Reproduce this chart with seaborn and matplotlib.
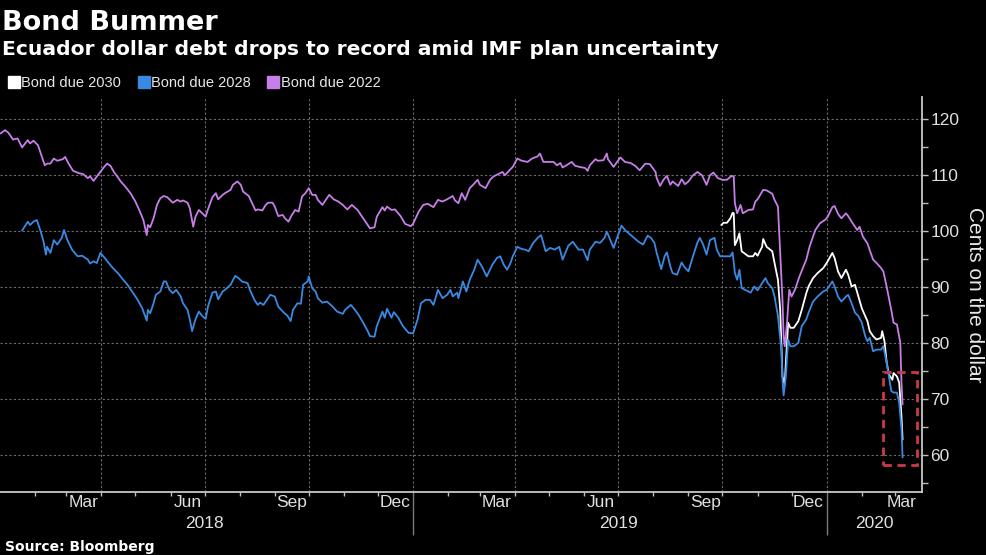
import pandas as pd
import matplotlib
matplotlib.use('Agg')
import matplotlib.pyplot as plt
import matplotlib.dates as mdates
from matplotlib.lines import Line2D
from matplotlib.patches import Rectangle
import seaborn as sns

# ---------------- data (days since 2018-01-01) ----------------
start = pd.Timestamp('2018-01-01')

days_2022 = [1, 5, 8, 12, 16, 20, 25, 27, 30, 34, 36, 40, 42, 45, 48, 51, 56, 58, 61, 65,
             70, 74, 78, 80, 83, 86, 89, 92, 95, 98, 101, 105, 107, 111, 116, 120, 124, 127, 130, 131,
             133, 136, 139, 142, 145, 148, 151, 153, 157, 160, 162, 166, 168, 171, 173, 176, 179, 182, 184, 188,
             191, 193, 197, 199, 204, 206, 210, 213, 215, 220, 223, 226, 228, 232, 235, 237, 241, 243, 246, 250,
             252, 255, 258, 261, 264, 267, 270, 273, 276, 279, 281, 285, 288, 291, 295, 299, 303, 307, 311, 316,
             320, 325, 327, 331, 333, 338, 340, 342, 346, 349, 354, 358, 363, 365, 370, 374, 378, 383, 387, 391,
             395, 400, 402, 405, 408, 411, 415, 418, 422, 424, 429, 433, 436, 440, 444, 446, 450, 453, 457, 461,
             466, 470, 475, 477, 480, 484, 489, 492, 495, 497, 502, 505, 508, 512, 517, 519, 521, 526, 528, 533,
             536, 537, 542, 545, 548, 552, 557, 561, 565, 570, 574, 579, 580, 583, 586, 589, 592, 594, 599, 602,
             605, 608, 612, 616, 620, 624, 627, 630, 634, 638, 642, 646, 648, 649, 651, 654, 656, 661, 665, 667,
             669, 674, 677, 682, 684, 687, 689, 691, 692, 693, 695, 697, 699, 702, 706, 712, 715, 720, 724, 729,
             731, 735, 737, 740, 743, 747, 749, 753, 757, 759, 762, 766, 768, 771, 774, 778, 780, 783, 787, 789,
             792, 795, 796, 797]
bond_2022 = [117.5, 118.1, 117.6, 116.4, 116.6, 115.0, 116.3, 115.7, 116.2, 115.4, 114.2, 111.8, 112.1, 112.1, 113.0, 112.6, 112.9, 113.3, 112.1, 110.8,
             110.4, 110.2, 109.5, 109.8, 109.0, 109.8, 110.6, 111.4, 112.1, 111.7, 110.6, 109.5, 108.9, 108.0, 106.7, 105.3, 103.5, 102.0, 99.3, 101.1,
             100.7, 102.3, 104.7, 105.9, 106.3, 106.1, 105.5, 105.1, 105.6, 105.3, 105.5, 105.1, 104.1, 100.8, 102.6, 103.8, 103.2, 102.6, 103.9, 106.1,
             106.8, 105.7, 106.5, 106.8, 107.4, 108.3, 108.9, 108.3, 107.1, 106.3, 105.0, 103.7, 103.9, 103.7, 104.7, 105.1, 105.1, 104.4, 102.7, 102.9,
             102.3, 101.7, 102.9, 103.8, 103.5, 106.2, 106.8, 107.7, 106.5, 106.5, 105.6, 104.7, 105.6, 106.5, 105.7, 105.3, 104.7, 103.9, 104.7, 103.8,
             102.6, 101.1, 100.5, 100.7, 102.6, 104.3, 103.7, 104.4, 103.8, 103.9, 102.7, 101.3, 100.9, 101.3, 103.5, 104.7, 104.9, 104.3, 105.6, 105.3,
             105.7, 106.3, 105.5, 105.0, 106.8, 105.6, 107.7, 108.3, 109.2, 108.3, 107.7, 109.2, 109.8, 110.2, 110.6, 110.0, 110.9, 111.5, 113.0, 112.6,
             112.4, 113.0, 113.4, 113.9, 112.4, 112.4, 112.4, 111.8, 112.2, 111.4, 112.0, 112.4, 111.7, 111.5, 111.3, 110.8, 111.8, 112.9, 112.6, 112.7,
             113.9, 112.9, 111.5, 112.4, 113.2, 112.4, 112.2, 111.7, 110.9, 112.1, 112.0, 110.6, 109.5, 108.1, 109.2, 109.9, 108.3, 108.9, 108.1, 109.3,
             108.4, 108.9, 110.0, 110.6, 110.0, 108.3, 110.0, 110.5, 109.5, 109.2, 109.2, 109.9, 109.8, 105.0, 103.2, 104.7, 103.2, 103.8, 103.9, 105.3,
             105.7, 107.4, 107.3, 106.7, 105.6, 104.4, 96.1, 87.7, 81.2, 79.4, 83.6, 89.5, 88.3, 89.5, 91.9, 94.9, 97.3, 100.2, 101.4, 102.1,
             102.6, 104.3, 104.5, 103.1, 102.3, 103.2, 102.7, 101.4, 100.2, 100.8, 99.0, 97.8, 96.6, 94.9, 94.3, 93.4, 92.8, 90.0, 85.9, 83.6,
             83.3, 80.0, 72.9, 69.0]

days_2028 = [20, 25, 27, 30, 33, 36, 39, 41, 42, 45, 48, 51, 55, 57, 60, 64, 69, 73, 78, 80,
             83, 86, 89, 93, 96, 101, 105, 108, 113, 117, 122, 126, 130, 131, 133, 136, 138, 142, 145, 147,
             150, 153, 156, 160, 162, 166, 168, 170, 173, 176, 179, 182, 184, 188, 191, 193, 197, 199, 204, 208,
             211, 214, 219, 221, 225, 228, 230, 233, 236, 239, 243, 246, 251, 254, 257, 259, 263, 266, 268, 272,
             273, 276, 279, 281, 285, 289, 294, 298, 303, 305, 310, 313, 317, 321, 325, 327, 331, 333, 338, 340,
             342, 346, 348, 352, 356, 361, 365, 369, 372, 376, 380, 383, 387, 391, 395, 398, 400, 404, 405, 409,
             412, 415, 419, 422, 426, 430, 435, 439, 442, 445, 448, 451, 453, 457, 461, 464, 467, 471, 475, 478,
             482, 486, 490, 494, 497, 502, 506, 511, 515, 519, 521, 526, 530, 534, 536, 542, 545, 549, 552, 556,
             559, 564, 568, 572, 575, 578, 580, 584, 587, 589, 592, 594, 598, 602, 604, 608, 612, 616, 618, 621,
             624, 627, 631, 633, 636, 640, 645, 647, 649, 651, 653, 655, 661, 663, 666, 669, 673, 676, 678, 682,
             684, 687, 690, 691, 692, 694, 696, 698, 701, 705, 708, 712, 714, 718, 722, 727, 730, 735, 737, 740,
             743, 747, 749, 752, 755, 758, 761, 764, 766, 768, 771, 774, 778, 780, 783, 787, 789, 792, 794, 796,
             797]
bond_2028 = [100.1, 101.7, 101.1, 101.7, 102.0, 100.2, 98.1, 95.8, 97.2, 96.1, 98.4, 97.6, 98.8, 100.2, 98.4, 96.7, 95.5, 95.6, 94.9, 94.2,
             94.6, 94.3, 96.1, 95.2, 94.4, 93.2, 92.4, 91.6, 90.4, 89.2, 87.7, 86.2, 84.0, 85.9, 85.3, 87.1, 88.6, 89.2, 91.0, 91.0,
             89.5, 88.9, 89.5, 88.3, 87.1, 85.9, 84.2, 82.1, 84.2, 85.6, 84.8, 84.3, 86.5, 89.0, 89.2, 87.8, 89.2, 89.5, 90.4, 92.0,
             91.6, 91.0, 90.7, 89.5, 87.7, 86.8, 87.2, 86.8, 87.7, 88.6, 88.3, 86.5, 85.4, 84.9, 83.9, 85.9, 87.1, 87.0, 90.4, 91.0,
             91.9, 89.8, 89.2, 88.0, 87.2, 87.4, 86.5, 85.6, 85.2, 85.9, 86.8, 86.1, 85.0, 83.6, 82.1, 81.2, 81.1, 83.0, 85.6, 84.5,
             86.1, 84.5, 85.5, 84.5, 83.0, 81.8, 81.7, 84.2, 87.1, 87.7, 87.7, 86.8, 89.5, 88.0, 88.6, 89.5, 88.3, 89.0, 88.0, 91.0,
             89.2, 91.3, 93.1, 94.9, 93.6, 91.9, 94.0, 95.2, 95.5, 94.0, 93.1, 94.3, 95.5, 97.2, 96.8, 96.7, 96.4, 97.9, 98.8, 99.3,
             96.4, 97.0, 96.7, 97.2, 94.9, 97.4, 98.1, 96.7, 96.7, 94.8, 96.7, 98.1, 97.9, 98.8, 99.9, 97.0, 98.8, 101.0, 100.2, 99.5,
             99.0, 98.1, 97.6, 99.2, 98.8, 97.9, 96.1, 93.2, 95.5, 96.2, 93.7, 92.5, 92.2, 94.4, 93.7, 92.8, 95.5, 98.0, 98.8, 97.6,
             95.8, 98.4, 98.8, 96.7, 95.5, 95.5, 95.5, 96.2, 92.5, 91.3, 93.1, 89.8, 89.2, 89.0, 90.1, 89.4, 90.7, 91.6, 90.7, 89.8,
             88.3, 84.8, 78.8, 73.4, 70.6, 74.0, 80.6, 79.4, 79.4, 80.0, 83.0, 84.2, 85.4, 87.4, 88.3, 89.2, 89.5, 91.0, 90.1, 88.3,
             87.4, 88.3, 88.6, 87.1, 85.4, 84.8, 83.6, 81.2, 80.3, 80.9, 78.5, 78.8, 78.8, 79.4, 76.4, 71.4, 71.1, 71.1, 69.3, 64.6,
             59.5]

days_2030 = [637, 639, 642, 645, 647, 648, 649, 651, 653, 655, 661, 665, 667, 669, 673, 674, 677, 682, 684, 687,
             689, 690, 691, 693, 694, 696, 698, 701, 705, 708, 712, 714, 718, 722, 727, 730, 735, 737, 740, 743,
             747, 749, 752, 755, 758, 761, 764, 766, 768, 771, 774, 778, 779, 781, 783, 785, 788, 789, 792, 794,
             796, 797]
bond_2030 = [101.1, 101.5, 101.5, 102.3, 103.3, 103.2, 97.5, 98.4, 99.6, 96.4, 95.5, 95.5, 96.1, 95.6, 97.2, 98.6, 97.2, 96.4, 94.3, 91.3,
             85.9, 80.0, 74.0, 72.5, 76.4, 83.6, 82.7, 82.7, 83.9, 85.9, 88.9, 90.1, 91.6, 92.5, 93.4, 94.3, 96.1, 95.2, 92.8, 91.6,
             93.1, 92.2, 90.1, 90.4, 88.3, 86.2, 84.8, 83.9, 82.1, 81.2, 80.6, 80.9, 82.1, 80.3, 76.4, 74.3, 73.4, 74.6, 74.0, 72.9,
             66.9, 62.7]

series_names = ['Bond due 2030', 'Bond due 2028', 'Bond due 2022']
series_colors = ['#ffffff', '#3a8ae3', '#c87ee9']

grid_dates = ['2018-04-01', '2018-07-01', '2018-10-01', '2019-01-01',
              '2019-04-01', '2019-07-01', '2019-10-01', '2020-01-01']
month_label_dates = ['2018-03-16', '2018-06-16', '2018-09-16', '2018-12-16',
                     '2019-03-16', '2019-06-16', '2019-09-16', '2019-12-16', '2020-03-07']
month_labels = ['Mar', 'Jun', 'Sep', 'Dec', 'Mar', 'Jun', 'Sep', 'Dec', 'Mar']
year_label_dates = ['2018-07-01', '2019-07-01', '2020-02-12']
year_labels = ['2018', '2019', '2020']

# highlighted window (red dashed box)
box_dates = ['2020-02-20', '2020-03-21']
box_values = [58.2, 74.8]


def to_frame(days, values):
    return pd.DataFrame({'date': start + pd.to_timedelta(days, unit='D'), 'value': values})


frames = [to_frame(days_2030, bond_2030), to_frame(days_2028, bond_2028), to_frame(days_2022, bond_2022)]

# ---------------- style ----------------
sns.set_theme(style='dark', rc={
    'figure.facecolor': 'black', 'axes.facecolor': 'black', 'savefig.facecolor': 'black',
    'text.color': '#e8e8e8', 'axes.labelcolor': '#e8e8e8',
    'xtick.color': '#e0e0e0', 'ytick.color': '#e0e0e0',
})
plt.rcParams['font.family'] = ['Liberation Sans', 'DejaVu Sans']

fig = plt.figure(figsize=(9.87, 5.55), dpi=100)
ax = fig.add_axes([0.0, 0.1135, 0.934, 0.7115])

# grid first
for d in grid_dates:
    ax.axvline(pd.Timestamp(d), color='#6b6b6b', lw=0.8, ls=(0, (2, 2)), zorder=0)
ax.set_yticks([60, 70, 80, 90, 100, 110, 120])
ax.set_yticks([55, 65, 75, 85, 95, 105, 115], minor=True)
ax.yaxis.grid(True, which='major', color='#6b6b6b', lw=0.8, ls=(0, (2, 2)))
ax.xaxis.grid(False)

# lines: blue, white, purple
for i in [1, 0, 2]:
    sns.lineplot(data=frames[i], x='date', y='value', ax=ax, color=series_colors[i],
                 linewidth=1.3, zorder=3 + i)

ax.add_patch(Rectangle((pd.Timestamp(box_dates[0]), box_values[0]),
                       pd.Timestamp(box_dates[1]) - pd.Timestamp(box_dates[0]),
                       box_values[1] - box_values[0],
                       fill=False, edgecolor='#c93a48', lw=2, ls=(0, (3, 2)), zorder=6))

ax.set_xlim(pd.Timestamp('2018-01-01 12:00'), pd.Timestamp('2020-03-25'))
ax.set_ylim(53.3, 124)

# y axis on right
ax.yaxis.tick_right()
ax.yaxis.set_label_position('right')
ax.tick_params(axis='y', which='both', direction='out', length=4, width=1, color='#bdbdbd',
               labelsize=12.5, pad=2, left=False, right=True)
ax.set_ylabel('Cents on the dollar', rotation=270, fontsize=15, va='center', ha='center')
ax.yaxis.set_label_coords(975 / 922, 0.5)
ax.set_xlabel('')

# x axis: month minor ticks, long year-boundary ticks
ax.xaxis.set_major_locator(mdates.YearLocator())
ax.xaxis.set_minor_locator(mdates.MonthLocator())
ax.xaxis.set_major_formatter(plt.NullFormatter())
ax.tick_params(axis='x', which='major', direction='out', length=31, width=1, color='#7a7a7a', bottom=True)
ax.tick_params(axis='x', which='minor', direction='out', length=3, width=1, color='#bdbdbd', bottom=True)

sec = ax.secondary_xaxis('bottom')
sec.set_xticks([pd.Timestamp(d) for d in month_label_dates], labels=month_labels)
sec.tick_params(length=0, pad=2, labelsize=12.5, colors='#e0e0e0')
sec.spines['bottom'].set_visible(False)

sec2 = ax.secondary_xaxis('bottom')
sec2.set_xticks([pd.Timestamp(d) for d in year_label_dates], labels=year_labels)
sec2.tick_params(length=0, pad=17, labelsize=12.5, colors='#e0e0e0')
sec2.spines['bottom'].set_visible(False)

for s in ['top', 'left']:
    ax.spines[s].set_visible(False)
for s in ['bottom', 'right']:
    ax.spines[s].set_visible(True)
    ax.spines[s].set_color('#c8c8c8')
    ax.spines[s].set_linewidth(1.3)

# titles
fig.text(0.002, 1 - 30 / 555, 'Bond Bummer', fontsize=19.5, fontweight='bold',
         color='white', family='DejaVu Sans', va='baseline')
fig.text(0.002, 1 - 55 / 555, 'Ecuador dollar debt drops to record amid IMF plan uncertainty',
         fontsize=14.6, fontweight='bold', color='white', family='DejaVu Sans', va='baseline')
fig.text(0.005, 0.008, 'Source: Bloomberg', fontsize=10, fontweight='bold',
         color='white', family='DejaVu Sans', va='baseline')

handles = [Line2D([], [], ls='none', marker='s', markersize=8, color=c) for c in series_colors]
fig.legend(handles, series_names, loc='center left', bbox_to_anchor=(0.006, 1 - 83 / 555),
           ncol=3, frameon=False, fontsize=10.5, handlelength=0.7, handletextpad=0.15,
           columnspacing=1.2, borderaxespad=0, borderpad=0.2, labelcolor='#e8e8e8')

fig.savefig('out.png', dpi=100, facecolor='black')
